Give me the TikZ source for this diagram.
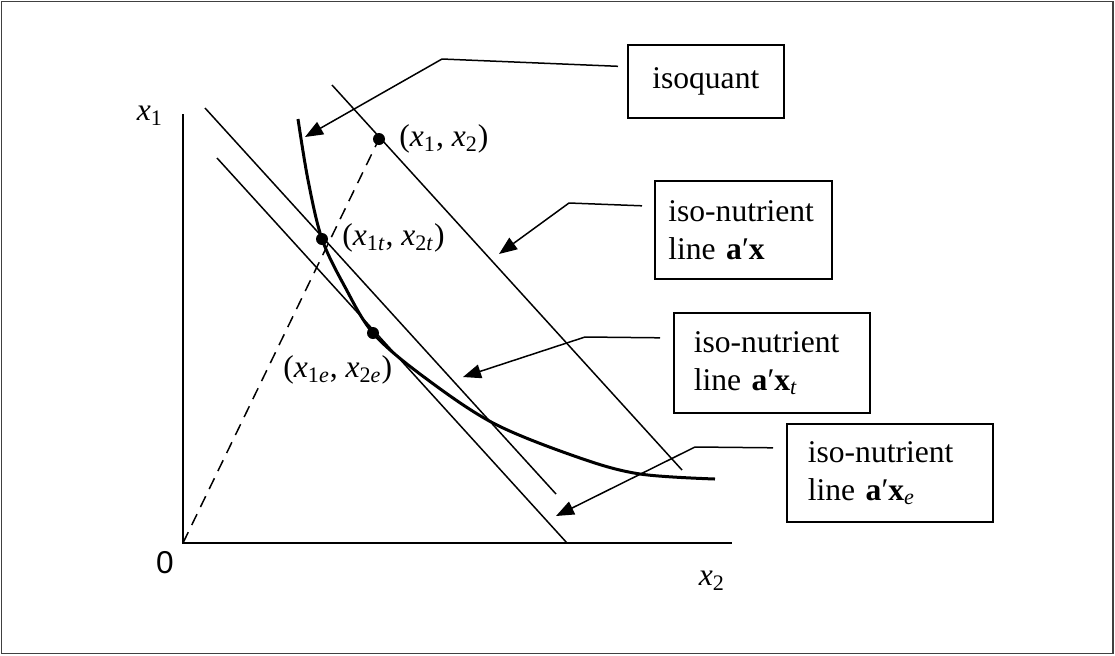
\documentclass[tikz,border=0pt]{standalone}
\usepackage{fontspec}
\setmainfont{Liberation Serif}
\newfontfamily\axisfont{Liberation Sans}
\usetikzlibrary{arrows.meta}
\newcommand{\xv}[1]{\textit{x}\textsubscript{#1}}

\begin{document}
\begin{tikzpicture}[x=0.5pt,y=-0.5pt,>={Triangle[length=9pt,width=7pt]},
  font=\fontsize{15.8}{19}\selectfont,
  box/.style={draw,line width=0.8pt,inner xsep=10.5pt,inner ysep=0pt,align=left,anchor=north west},
  callout/.style={->,line width=0.75pt},
  isoline/.style={line width=0.75pt},
  lbl/.style={inner sep=0pt}]
  \useasboundingbox (0,0) rectangle (1115,655);
  \draw[line width=0.8pt,black!75] (1.5,1.5) rectangle (1113,653.5);

  \coordinate (O) at (183,543);
  \draw[line width=1pt] (183,114) -- (O) -- (732,543);
  \node[lbl] (zero) at (165,563) {\axisfont 0};
  \node[lbl] (xone) at (150,116) {\xv{1}};
  \node[lbl] (xtwo) at (712,581) {\xv{2}};

  \draw[isoline] (332,85) -- (682,470);
  \draw[isoline] (205,108) -- (556,494);
  \draw[isoline] (217,158) -- (567,543);

  \draw[line width=1.5pt] plot[smooth,tension=0.55] coordinates {(298,119) (308,180) (322,239) (345,287)
    (373,333) (420,374) (493,423) (580,458) (640,474) (715,479)};

  \coordinate (P) at (379,139);
  \coordinate (Pt) at (322,239);
  \coordinate (Pe) at (373,333);
  \draw[line width=0.75pt,dash pattern=on 6pt off 4pt] (O) -- (P);
  \foreach \p in {P,Pt,Pe}
    \fill (\p) circle (3pt);
  \node[lbl,anchor=west] (lP) at (399,139) {(\xv{1}, \xv{2})};
  \node[lbl,anchor=west] (lPt) at (342,238) {(\xv{1\textit{t}}, \xv{2\textit{t}})};
  \node[lbl,anchor=west] (lPe) at (283,370) {(\xv{1\textit{e}}, \xv{2\textit{e}})};

  \node[box,inner xsep=0pt,minimum width=78pt,minimum height=36.5pt,align=center] (isoq) at (627,44) {isoquant};
  \node[box,inner xsep=6.75pt,text width=75pt,minimum height=49pt] (nutA) at (654,180) {iso-nutrient\\line \textbf{a}′\textbf{x}};
  \node[box,inner xsep=10pt,text width=78pt,minimum height=50pt] (nutT) at (673,312) {iso-nutrient\\line \textbf{a}′\textbf{x}\textsubscript{\textit{t}}};
  \node[box,text width=82pt,minimum height=49pt] (nutE) at (786,423) {iso-nutrient\\line \textbf{a}′\textbf{x}\textsubscript{\textit{e}}};

  \coordinate (tipQ) at (305,137);
  \coordinate (tipA) at (499,254);
  \coordinate (tipT) at (463,377);
  \coordinate (tipE) at (556,516);
  \draw[callout] ([xshift=-4.5pt,yshift=7.5pt]isoq.west) -- (442,59) -- (tipQ);
  \draw[callout] ([xshift=-6pt,yshift=12pt]nutA.west) -- (569,203) -- (tipA);
  \draw[callout] ([xshift=-6.5pt,yshift=12.5pt]nutT.west) -- (585,337) -- (tipT);
  \draw[callout] ([xshift=-6.5pt,yshift=12.5pt]nutE.west) -- (695,447) -- (tipE);
\end{tikzpicture}
\end{document}
